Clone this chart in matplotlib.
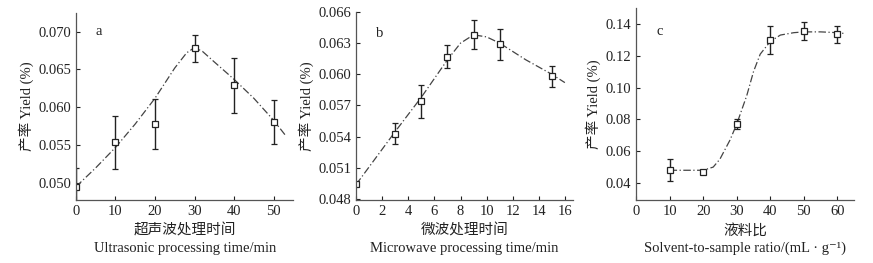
import matplotlib
matplotlib.use("Agg")
import matplotlib.pyplot as plt

# panel a: ultrasonic time
a_x = [0, 10, 20, 30, 40, 50]
a_y = [0.0495, 0.0554, 0.0578, 0.0678, 0.0629, 0.0581]
a_err = [0.0025, 0.0035, 0.0033, 0.0018, 0.0036, 0.0029]
a_fit_x = [0, 5, 10, 15, 20, 25, 28, 30, 32, 35, 40, 45, 50, 53]
a_fit_y = [0.0495, 0.0520, 0.0547, 0.0578, 0.0612, 0.0652, 0.0672, 0.0679,
           0.0674, 0.0660, 0.0637, 0.0612, 0.0583, 0.0563]

# panel b: microwave time
b_x = [0, 3, 5, 7, 9, 11, 15]
b_y = [0.0494, 0.0543, 0.0574, 0.0617, 0.0638, 0.0629, 0.0598]
b_err = [0.0, 0.0010, 0.0016, 0.0011, 0.0014, 0.0015, 0.0010]
b_fit_x = [0, 3, 5, 7, 8, 9, 10, 11, 13, 15, 16]
b_fit_y = [0.0494, 0.0545, 0.0578, 0.0614, 0.0630, 0.0638, 0.0636, 0.0630,
           0.0614, 0.0600, 0.0592]

# panel c: solvent-to-sample ratio
c_x = [10, 20, 30, 40, 50, 60]
c_y = [0.048, 0.047, 0.077, 0.130, 0.1355, 0.1335]
c_err = [0.007, 0.0008, 0.003, 0.009, 0.0055, 0.0055]
c_fit_x = [10, 15, 20, 23, 25, 28, 30, 33, 35, 37, 40, 43, 47, 50, 55, 60, 62]
c_fit_y = [0.048, 0.048, 0.048, 0.050, 0.055, 0.067, 0.077, 0.095, 0.110,
           0.121, 0.129, 0.133, 0.1345, 0.135, 0.135, 0.1345, 0.134]

plt.rcParams['font.family'] = ['Liberation Serif', 'Noto Sans CJK SC', 'DejaVu Sans']
plt.rcParams['font.size'] = 10.5

fig = plt.figure(figsize=(8.73, 2.63), dpi=100)
c = '#222222'

def panel(rect, x, y, err, fx, fy, xlim, ylim, xticks, yticks, yfmt, letter, lpos,
          cn, en):
    ax = fig.add_axes(rect)
    ax.plot(fx, fy, color='#444444', lw=0.9, ls=(0, (6, 2, 1, 2)))
    ax.errorbar(x, y, yerr=err, fmt='s', ms=5, mfc='white', mec=c, mew=0.9,
                ecolor=c, elinewidth=1.0, capsize=2.5, capthick=1.0)
    # small dot in the centre of each square
    ax.plot(x, y, ls='none', marker='.', ms=1.5, color=c)
    ax.set_xlim(xlim)
    ax.set_ylim(ylim)
    ax.set_xticks(xticks)
    ax.set_yticks(yticks)
    ax.set_yticklabels([yfmt % v for v in yticks])
    for s in ['top', 'right']:
        ax.spines[s].set_visible(False)
    for s in ['left', 'bottom']:
        ax.spines[s].set_color('#555555')
        ax.spines[s].set_linewidth(0.9)
    ax.tick_params(direction='in', length=3, width=0.8, colors=c, labelsize=10.5)
    ax.text(lpos[0], lpos[1], letter, fontsize=10.5, color=c)
    ax.set_ylabel('产率 Yield (%)', fontsize=10.5, color=c, labelpad=3)
    ax.set_xlabel(cn + '\n' + en, fontsize=10.5, color=c, labelpad=4, linespacing=1.4)
    return ax

panel([0.087, 0.2395, 0.249, 0.712], a_x, a_y, a_err, a_fit_x, a_fit_y,
      (0, 55), (0.04775, 0.0725), [0, 10, 20, 30, 40, 50],
      [0.050, 0.055, 0.060, 0.065, 0.070], '%.3f', 'a', (5, 0.0695),
      '超声波处理时间', 'Ultrasonic processing time/min')

panel([0.408, 0.2395, 0.248, 0.715], b_x, b_y, b_err, b_fit_x, b_fit_y,
      (0, 16.6), (0.0479, 0.066), [0, 2, 4, 6, 8, 10, 12, 14, 16],
      [0.048, 0.051, 0.054, 0.057, 0.060, 0.063, 0.066], '%.3f', 'b', (1.5, 0.0636),
      '微波处理时间', 'Microwave processing time/min')

panel([0.7285, 0.2395, 0.25, 0.73], c_x, c_y, c_err, c_fit_x, c_fit_y,
      (0, 65), (0.0293, 0.150), [0, 10, 20, 30, 40, 50, 60],
      [0.04, 0.06, 0.08, 0.10, 0.12, 0.14], '%.2f', 'c', (6, 0.133),
      '液料比', 'Solvent-to-sample ratio/(mL · g⁻¹)')

fig.savefig('out.png', dpi=100)
